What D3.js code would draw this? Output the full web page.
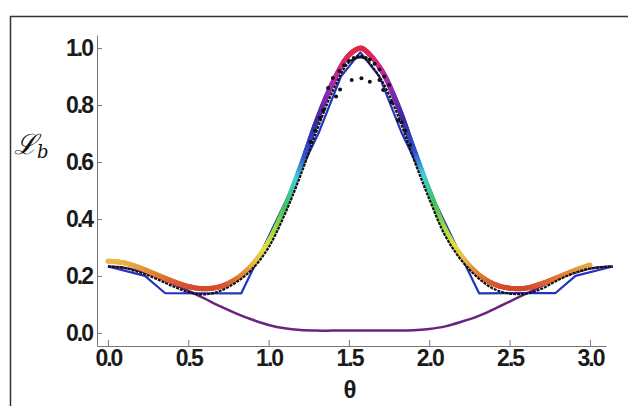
<!DOCTYPE html>
<html>
<head>
<meta charset="utf-8">
<script src="https://cdn.jsdelivr.net/npm/d3@7"></script>
<style>
  body { margin: 0; background: #fff; }
  text { font-family: "Liberation Sans", Arial, sans-serif; }
</style>
</head>
<body>
<div id="chart"></div>
<script>

  // rainbow curve
  var mainTheta = [0, 0.1, 0.2, 0.3, 0.4, 0.5, 0.6, 0.7, 0.8, 0.9, 1.0, 1.1, 1.2, 1.3, 1.4, 1.5, 1.5708,
                   1.6, 1.7, 1.8, 1.9, 2.0, 2.1, 2.2, 2.3, 2.4, 2.5, 2.6, 2.7, 2.8, 2.9, 3.0];
  var mainVal   = [0.252, 0.246, 0.228, 0.205, 0.182, 0.163, 0.155, 0.163, 0.190, 0.240, 0.320, 0.440, 0.585, 0.745, 0.880, 0.975, 1.0,
                   0.993, 0.925, 0.805, 0.650, 0.500, 0.362, 0.270, 0.208, 0.172, 0.157, 0.157, 0.173, 0.195, 0.218, 0.238];

  // black data
  var blackTheta = [0, 0.1, 0.2, 0.3, 0.4, 0.5, 0.6, 0.7, 0.8, 0.9, 1.0, 1.1, 1.2, 1.3, 1.4, 1.5, 1.5708,
                    1.6, 1.7, 1.8, 1.9, 2.0, 2.1, 2.2, 2.3, 2.4, 2.5, 2.6, 2.7, 2.8, 2.9, 3.0, 3.1, 3.1416];
  var blackVal   = [0.233, 0.228, 0.212, 0.190, 0.165, 0.143, 0.135, 0.148, 0.178, 0.225, 0.300, 0.415, 0.555, 0.710, 0.850, 0.950, 0.968,
                    0.963, 0.890, 0.770, 0.615, 0.470, 0.340, 0.255, 0.195, 0.155, 0.138, 0.138, 0.155, 0.185, 0.210, 0.226, 0.232, 0.233];

  // scattered black points around the peak
  var dotTheta = [1.26, 1.29, 1.32, 1.34, 1.37, 1.40, 1.42, 1.44, 1.445, 1.47, 1.50, 1.517, 1.53, 1.555, 1.578, 1.58,
                  1.605, 1.63, 1.63, 1.66, 1.69, 1.69, 1.713, 1.72, 1.75, 1.765, 1.806, 1.827, 1.85, 1.88];
  var dotVal   = [0.670, 0.710, 0.755, 0.782, 0.860, 0.895, 0.830, 0.920, 0.855, 0.940, 0.955, 0.888, 0.965, 0.970, 0.894, 0.970,
                  0.965, 0.960, 0.882, 0.945, 0.925, 0.888, 0.853, 0.900, 0.870, 0.810, 0.747, 0.740, 0.710, 0.660];

  // coarse blue curve
  var blueTheta = [0, 0.23, 0.355, 0.83, 1.31, 1.45, 1.5708, 1.69, 1.83, 2.31, 2.786, 2.91, 3.1416];
  var blueVal   = [0.233, 0.200, 0.140, 0.139, 0.700, 0.900, 0.985, 0.900, 0.700, 0.139, 0.140, 0.200, 0.233];

  // purple curve
  var purpleTheta = [0, 0.1, 0.2, 0.3, 0.4, 0.5, 0.6, 0.7, 0.8, 0.9, 1.0, 1.1, 1.2, 1.3, 1.4, 1.5,
                     1.6, 1.7, 1.8, 1.9, 2.0, 2.1, 2.2, 2.3, 2.4, 2.5, 2.6, 2.7, 2.8, 2.9, 3.0, 3.1, 3.1416];
  var purpleVal   = [0.233, 0.229, 0.217, 0.198, 0.174, 0.148, 0.121, 0.093, 0.068, 0.046, 0.028, 0.016, 0.010, 0.008, 0.008, 0.008,
                     0.008, 0.008, 0.008, 0.009, 0.014, 0.023, 0.039, 0.058, 0.083, 0.110, 0.137, 0.165, 0.190, 0.210, 0.226, 0.232, 0.233];

  var xTicks = [0, 0.5, 1.0, 1.5, 2.0, 2.5, 3.0];
  var yTicks = [0, 0.2, 0.4, 0.6, 0.8, 1.0];

  //=========================================================================
  // Setup
  //=========================================================================
  var width = 628, height = 406;

  var svg = d3.select("#chart")
    .append("svg")
    .attr("width", width)
    .attr("height", height);

  // frame (left + top only visible)
  svg.append("path")
    .attr("d", "M10.5,406 V16.5 H628")
    .attr("fill", "none")
    .attr("stroke", "#333")
    .attr("stroke-width", 1.5);

  var x = d3.scaleLinear().domain([-0.068, 3.1]).range([97, 606]);
  var y = d3.scaleLinear().domain([-0.046, 1.046]).range([346, 35]);

  //=========================================================================
  // Axes
  //=========================================================================
  var gx = svg.append("g").attr("transform", "translate(0," + y(-0.046) + ")");
  gx.call(d3.axisBottom(x).tickValues(d3.range(0, 3.15, 0.1)).tickSizeInner(-3.5).tickSizeOuter(0).tickFormat(""));
  gx.call(d3.axisBottom(x).tickValues(xTicks).tickSizeInner(-6).tickSizeOuter(0).tickPadding(4)
    .tickFormat(d3.format(".1f")));

  var gy = svg.append("g").attr("transform", "translate(" + x(-0.068) + ",0)");
  gy.call(d3.axisLeft(y).tickValues(d3.range(0, 1.01, 0.05)).tickSizeInner(-3).tickSizeOuter(0).tickFormat(""));
  gy.call(d3.axisLeft(y).tickValues(yTicks).tickSizeInner(-5).tickSizeOuter(0).tickPadding(5)
    .tickFormat(d3.format(".1f")));

  svg.selectAll(".domain, .tick line").attr("stroke", "#777");
  svg.selectAll(".tick text")
    .attr("font-size", 23)
    .attr("font-weight", "bold")
    .attr("letter-spacing", "-2px")
    .attr("fill", "#1a1a1a")
    .style("font-family", "Liberation Sans, Arial, sans-serif");

  svg.append("text")
    .attr("x", 350).attr("y", 398)
    .attr("text-anchor", "middle")
    .attr("font-size", 24)
    .attr("font-weight", "bold")
    .attr("fill", "#1a1a1a")
    .text("θ");

  var ylab = svg.append("text").attr("x", 14).attr("y", 154).attr("fill", "#111");
  ylab.append("tspan").attr("font-size", 28).attr("font-style", "italic")
    .style("font-family", "DejaVu Serif, serif").text("ℒ");
  ylab.append("tspan").attr("font-size", 18).attr("font-style", "italic").attr("dy", 4)
    .style("font-family", "DejaVu Serif, serif").text("b");

  //=========================================================================
  // Curves
  //=========================================================================
  var line = d3.line()
    .x(function(d) { return x(d[0]); })
    .y(function(d) { return y(d[1]); })
    .curve(d3.curveCatmullRom.alpha(0.5));

  var plot = svg.append("g");

  plot.append("path")
    .attr("d", line(d3.zip(purpleTheta, purpleVal)))
    .attr("fill", "none").attr("stroke", "#6a2380").attr("stroke-width", 2.5);

  plot.append("path")
    .attr("d", d3.line().x(function(d) { return x(d[0]); }).y(function(d) { return y(d[1]); })(d3.zip(blueTheta, blueVal)))
    .attr("fill", "none").attr("stroke", "#2233c0").attr("stroke-width", 2.2)
    .attr("stroke-linejoin", "round");

  // rainbow line: colour follows the value
  var colorScale = d3.scaleLinear()
    .domain([0.13, 0.19, 0.25, 0.30, 0.38, 0.45, 0.55, 0.63, 0.75, 0.85, 0.93, 1.0])
    .range(["#d02828", "#e07030", "#e8b848", "#e0e040", "#90d840", "#40c060", "#40d0d8",
            "#3050d0", "#3a2aa0", "#9028b8", "#d02890", "#e02840"]);

  var tmp = plot.append("path")
    .attr("d", line(d3.zip(mainTheta, mainVal)))
    .attr("fill", "none").attr("stroke", "none");
  var node = tmp.node(), total = node.getTotalLength(), prev = node.getPointAtLength(0);
  for (var s = 1.5; s <= total + 1.5; s += 1.5) {
    var p = node.getPointAtLength(Math.min(s, total));
    plot.append("line")
      .attr("x1", prev.x).attr("y1", prev.y).attr("x2", p.x).attr("y2", p.y)
      .attr("stroke", colorScale(y.invert((prev.y + p.y) / 2)))
      .attr("stroke-width", 5)
      .attr("stroke-linecap", "round");
    prev = p;
  }

  plot.append("path")
    .attr("d", line(d3.zip(blackTheta, blackVal)))
    .attr("fill", "none").attr("stroke", "#111").attr("stroke-width", 2.2)
    .attr("stroke-dasharray", "3,1");

  plot.selectAll(".dot")
    .data(d3.zip(dotTheta, dotVal))
    .enter()
    .append("circle")
    .attr("class", "dot")
    .attr("cx", function(d) { return x(d[0]); })
    .attr("cy", function(d) { return y(d[1]); })
    .attr("r", 2)
    .attr("fill", "#111");

</script>
</body>
</html>
